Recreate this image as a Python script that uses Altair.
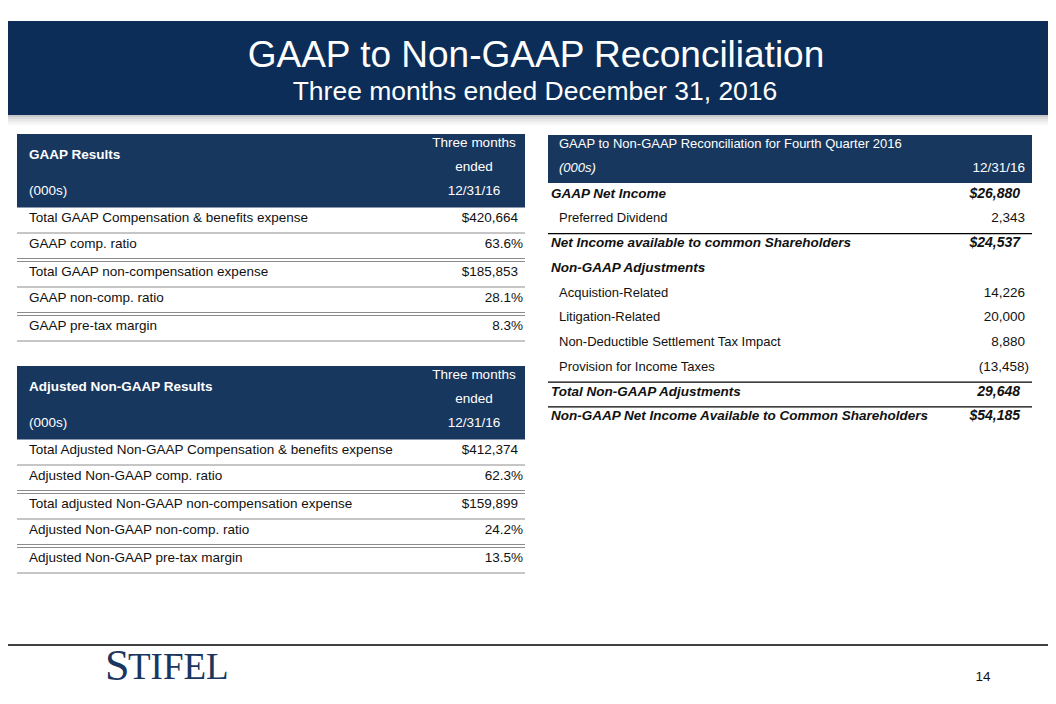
import altair as alt
import pandas as pd

# ------------------------------------------------------------------ content
TITLE = "GAAP to Non-GAAP Reconciliation"
SUBTITLE = "Three months ended December 31, 2016"

gaap_header = "GAAP Results"
adj_header = "Adjusted Non-GAAP Results"
units_label = "(000s)"
period_header = ["Three months", "ended", "12/31/16"]

gaap_labels = [
    "Total GAAP Compensation & benefits expense",
    "GAAP comp. ratio",
    "Total GAAP non-compensation expense",
    "GAAP non-comp. ratio",
    "GAAP pre-tax margin",
]
gaap_values = ["$420,664", "63.6%", "$185,853", "28.1%", "8.3%"]

adj_labels = [
    "Total Adjusted Non-GAAP Compensation & benefits expense",
    "Adjusted Non-GAAP comp. ratio",
    "Total adjusted Non-GAAP non-compensation expense",
    "Adjusted Non-GAAP non-comp. ratio",
    "Adjusted Non-GAAP pre-tax margin",
]
adj_values = ["$412,374", "62.3%", "$159,899", "24.2%", "13.5%"]
left_separators = ["single", "double", "single", "double", "single"]

recon_title = "GAAP to Non-GAAP Reconciliation for Fourth Quarter 2016"
recon_units = "(000s)"
recon_period = "12/31/16"
recon_labels = [
    "GAAP Net Income",
    "Preferred Dividend",
    "Net Income available to common Shareholders",
    "Non-GAAP Adjustments",
    "Acquistion-Related",
    "Litigation-Related",
    "Non-Deductible Settlement Tax Impact",
    "Provision for Income Taxes",
    "Total Non-GAAP Adjustments",
    "Non-GAAP Net Income Available to Common Shareholders",
]
recon_values = ["$26,880", "2,343", "$24,537", "", "14,226", "20,000",
                "8,880", "(13,458)", "29,648", "$54,185"]
recon_bold = [True, False, True, True, False, False, False, False, True, True]
recon_rule_after = [False, True, False, False, False, False, False, True, True, False]

logo_parts = ["S", "TIFEL"]
page_number = "14"

# ------------------------------------------------------------------ style
SANS = "Liberation Sans, Arial, sans-serif"
SERIF = "Liberation Serif, Times New Roman, serif"
INK = "#111111"
BAR = "#0b2d57"
HEAD = "#18375e"
LOGO = "#1b3660"
GRID = "#8c8c8c"

rects, rules, texts = [], [], []


def add_rect(x, x2, y, y2, color, opacity=1.0):
    rects.append(dict(x=x, x2=x2, y=y, y2=y2, color=color, op=opacity))


def add_rule(x, x2, y, color, width=1.0):
    rules.append(dict(x=x, x2=x2, y=y, color=color, sw=width))


def add_text(x, y, text, size, color=INK, weight="normal", style="normal",
             align="left", font=SANS):
    texts.append(dict(x=x, y=y, text=text, size=size, color=color,
                      weight=weight, fstyle=style, align=align, font=font))


# ------------------------------------------------------------------ title bar
add_rect(-10, 1070, 21, 115, BAR)
for i, op in enumerate([0.30, 0.20, 0.13, 0.08, 0.04]):
    add_rect(-10, 1070, 115 + 2 * i, 117 + 2 * i, "#444444", op)
add_text(536, 56, TITLE, 37, color="white", align="center")
add_text(535, 92, SUBTITLE, 26.5, color="white", align="center")


# ------------------------------------------------------------------ left tables
def left_table(top, header, labels, values):
    L, R = 17, 525
    head_h, row_h, gap = 73.5, 25.5, 3
    add_rect(L, R, top, top + head_h, HEAD)
    add_text(29, top + 21, header, 13.5, color="white", weight="bold")
    add_text(29, top + 57, units_label, 13.5, color="white")
    for k, t in enumerate(period_header):
        add_text(474, top + 9 + 24 * k, t, 13.5, color="white", align="center")
    y = top + head_h
    for lab, val, sep in zip(labels, values, left_separators):
        add_text(29, y + 10.5, lab, 13.5)
        add_text(523 if val.endswith("%") else 518, y + 10.5, val, 13.5, align="right")
        y += row_h
        add_rule(L, R, y, GRID, 1)
        if sep == "double":
            y += gap
            add_rule(L, R, y, GRID, 1)


left_table(134, gaap_header, gaap_labels, gaap_values)
left_table(366, adj_header, adj_labels, adj_values)

# ------------------------------------------------------------------ right table
RL, RR = 548, 1032
add_rect(RL, RR, 135, 183, HEAD)
add_text(559, 144, recon_title, 13, color="white")
add_text(559, 168, recon_units, 13, color="white", style="italic")
add_text(1025, 168, recon_period, 13.5, color="white", align="right")

first, pitch = 193.5, 24.75
for i, (lab, val, b, ra) in enumerate(zip(recon_labels, recon_values, recon_bold, recon_rule_after)):
    cy = first + i * pitch
    if b:
        add_text(551, cy, lab, 13.5, weight="bold", style="italic")
        if val:
            add_text(1020, cy, val, 14, weight="bold", style="italic", align="right")
    else:
        add_text(559, cy, lab, 13)
        if val:
            add_text(1029 if val.startswith("(") else 1025, cy, val, 13.5, align="right")
    if ra:
        add_rule(RL, RR, cy + pitch / 2 + 3, "#000000", 1.2)

# ------------------------------------------------------------------ footer
add_rule(-10, 1070, 645, "#000000", 1.5)
add_text(105, 667, logo_parts[0], 44, color=LOGO, font=SERIF)
add_text(128, 668, logo_parts[1], 37, color=LOGO, font=SERIF)
add_text(983, 677, page_number, 13.5, align="center")

# ------------------------------------------------------------------ chart
W, H = 1040, 686
xs = alt.Scale(domain=[8, 8 + W], nice=False, zero=False)
ys = alt.Scale(domain=[8 + H, 8], nice=False, zero=False)
X = alt.X("x:Q", scale=xs, axis=None)
Y = alt.Y("y:Q", scale=ys, axis=None)

layers = []
layers.append(
    alt.Chart(pd.DataFrame(rects)).mark_rect().encode(
        x=X, x2="x2:Q", y=Y, y2="y2:Q",
        color=alt.Color("color:N", scale=None),
        opacity=alt.Opacity("op:Q", scale=None),
    )
)
layers.append(
    alt.Chart(pd.DataFrame(rules)).mark_rule().encode(
        x=X, x2="x2:Q", y=Y,
        color=alt.Color("color:N", scale=None),
        strokeWidth=alt.StrokeWidth("sw:Q", scale=None),
    )
)
tdf = pd.DataFrame(texts)
for (font, weight, fstyle, align), g in tdf.groupby(["font", "weight", "fstyle", "align"]):
    layers.append(
        alt.Chart(g.reset_index(drop=True)).mark_text(
            font=font, fontWeight=weight, fontStyle=fstyle, align=align,
            baseline="middle",
        ).encode(
            x=X, y=Y, text="text:N",
            size=alt.Size("size:Q", scale=None),
            color=alt.Color("color:N", scale=None),
        )
    )

chart = alt.layer(*layers).properties(
    width=W, height=H, padding=0,
    autosize=alt.AutoSizeParams(type="none"),
    background="white",
).configure_view(stroke=None)

chart.save("out.html", embed_options={"renderer": "svg", "actions": False})
